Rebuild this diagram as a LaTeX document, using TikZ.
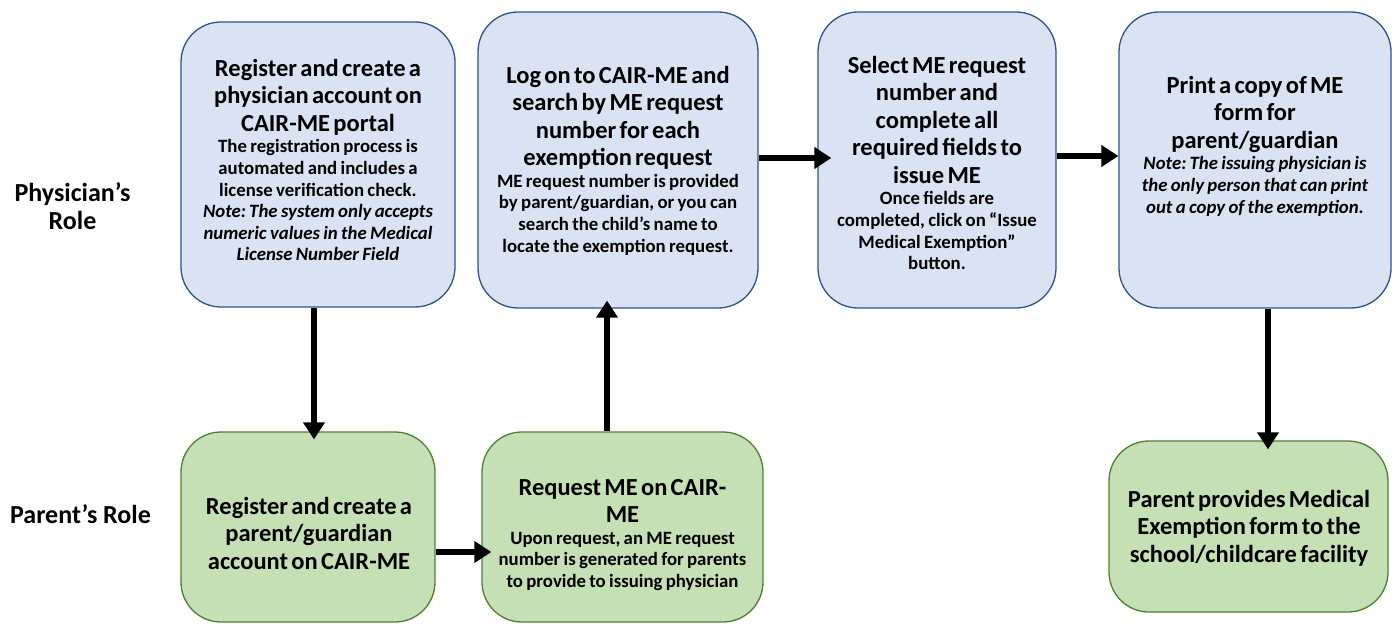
\documentclass[tikz,border=0pt]{standalone}
\usepackage{fontspec}
\setmainfont{Carlito}
\usetikzlibrary{arrows.meta,calc}
\definecolor{bfill}{HTML}{DAE3F3}
\definecolor{bdraw}{HTML}{2F528F}
\definecolor{gfill}{HTML}{C5E0B4}
\definecolor{gdraw}{HTML}{507E32}
\newcommand{\ttl}{\fontsize{24.5}{27.5}\selectfont\bfseries}
\newcommand{\subt}{\fontsize{18.8}{21.6}\selectfont\bfseries}
\newcommand{\rolefont}{\fontsize{26}{28}\selectfont\bfseries}
\tikzset{
  bluebox/.style={draw=bdraw, fill=bfill, line width=1.3pt, rounded corners=40pt, inner sep=0pt},
  greenbox/.style={draw=gdraw, fill=gfill, line width=1.3pt, rounded corners=40pt, inner sep=0pt},
  txt/.style={align=center, inner sep=0pt, text width=300pt},
  flow/.style={line width=6pt, -{Triangle[width=21pt,length=17pt]}},
  role/.style={align=center, font=\rolefont, inner sep=0pt}
}
\begin{document}
\begin{tikzpicture}[x=1pt,y=1pt]
\useasboundingbox (0,0) rectangle (1395,625);
% boxes
\node[bluebox, minimum width=274pt, minimum height=285pt] (A) at (318,460.5) {};
\node[bluebox, minimum width=280pt, minimum height=296pt] (B) at (618,465) {};
\node[bluebox, minimum width=238pt, minimum height=296pt] (C) at (937,465) {};
\node[bluebox, minimum width=272pt, minimum height=296pt] (D) at (1255,465) {};
\node[greenbox, minimum width=254pt, minimum height=190pt] (E) at (308,98) {};
\node[greenbox, minimum width=281pt, minimum height=190pt] (F) at (622.5,98) {};
\node[greenbox, minimum width=279pt, minimum height=171pt] (G) at (1248.5,98.5) {};
% texts
\node[txt] (At) at (318,465) {{\ttl Register and create a\\ physician account on\\ CAIR-ME portal\par}
  {\subt The registration process is\\ automated and includes a\\ license verification check.\\
  \itshape Note:\,The system only accepts\\ numeric values in the Medical\\ License Number Field\par}};
\node[txt] (Bt) at (618,464.5) {{\ttl Log on to CAIR-ME and\\ search by ME request\\ number for each\\ exemption request\par}
  {\subt ME request number is provided\\ by parent/guardian, or you can\\ search the child’s name to\\ locate the exemption request.\par}};
\node[txt] (Ct) at (937,462) {{\ttl Select ME request\\ number and\\ complete all\\ required fields to\\ issue ME\par}
  {\subt Once fields are\\ completed, click on “Issue\\ Medical Exemption”\\ button.\par}};
\node[txt] (Dt) at (1255,479) {{\ttl Print a copy of ME\\ form for\\ parent/guardian\par}
  {\subt\itshape Note:\,The issuing physician is\\ the only person that can print\\ out a copy of the exemption.\par}};
\node[txt] (Et) at (309,92) {{\ttl Register and create a\\ parent/guardian\\ account on CAIR-ME\par}};
\node[txt] (Ft) at (622.5,90) {{\ttl Request ME on CAIR-\\ ME\par}
  {\subt Upon request, an ME request\\ number is generated for parents\\ to provide to issuing physician\par}};
\node[txt] (Gt) at (1249,97) {{\ttl Parent provides Medical\\ Exemption form to the\\ school/childcare facility\par}};
% roles
\node[role] (R1) at (72.5,419) {Physician’s\\ Role};
\node[role] (R2) at (80.5,111) {Parent’s Role};
% arrows
\draw[flow, shorten >=-8pt] (A.south -| 314,0) -- (E.north -| 314,0);
\draw[flow, shorten >=-10pt] (E.east |- 0,73) -- (F.west |- 0,73);
\draw[flow, shorten >=-8pt] (F.north -| 607,0) -- (B.south -| 607,0);
\draw[flow, shorten >=-14pt] (B.east |- 0,467) -- (C.west |- 0,467);
\draw[flow] (C.east |- 0,469) -- (D.west |- 0,469);
\draw[flow, shorten >=-9pt] (D.south -| 1268,0) -- (G.north -| 1268,0);
\end{tikzpicture}
\end{document}
